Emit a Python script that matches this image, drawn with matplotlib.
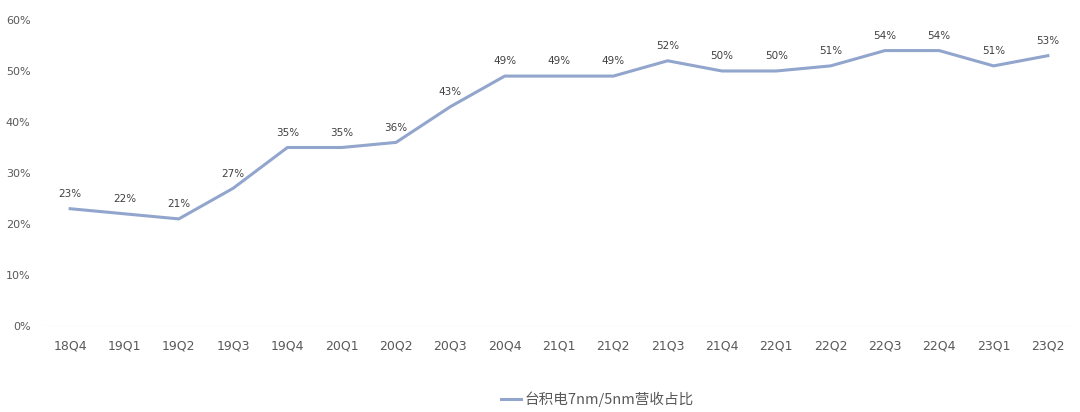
import matplotlib
matplotlib.use("Agg")
import matplotlib.pyplot as plt
from matplotlib.ticker import FuncFormatter

plt.rcParams['font.family'] = ['Noto Sans CJK SC', 'DejaVu Sans']

categories = ['18Q4', '19Q1', '19Q2', '19Q3', '19Q4', '20Q1', '20Q2', '20Q3', '20Q4',
              '21Q1', '21Q2', '21Q3', '21Q4', '22Q1', '22Q2', '22Q3', '22Q4', '23Q1', '23Q2']
share = [23, 22, 21, 27, 35, 35, 36, 43, 49, 49, 49, 52, 50, 50, 51, 54, 54, 51, 53]
series_name = '台积电7nm/5nm营收占比'
yticks = [0, 10, 20, 30, 40, 50, 60]

fig = plt.figure(figsize=(10.8, 4.12), dpi=100)
ax = fig.add_axes([0.0398, 0.2087, 0.9556, 0.7428])

x = list(range(len(categories)))
line_color = '#92a5cd'
ax.plot(x, share, color=line_color, lw=2.2, label=series_name, solid_joinstyle='miter')

for xi, v in zip(x, share):
    ax.annotate(f'{v}%', (xi, v), xytext=(0, 7), textcoords='offset points',
                ha='center', va='bottom', fontsize=7.5, color='#404040',
                family=['DejaVu Sans'])

ax.set_xlim(-0.5, len(categories) - 0.5)
ax.set_ylim(0, 60)
ax.set_yticks(yticks)
ax.yaxis.set_major_formatter(FuncFormatter(lambda v, p: f'{int(v)}%'))
ax.set_xticks(x)
ax.set_xticklabels(categories)

for s in ax.spines.values():
    s.set_visible(False)
ax.axhline(0, color='#f2f2f2', lw=1)
ax.tick_params(axis='both', length=0, colors='#595959')
ax.tick_params(axis='y', labelsize=8, pad=9)
ax.tick_params(axis='x', labelsize=9, pad=10)
for lbl in ax.get_xticklabels() + ax.get_yticklabels():
    lbl.set_family(['DejaVu Sans'])

leg = fig.legend(loc='center', bbox_to_anchor=(0.553, 0.032), frameon=False,
                 fontsize=10.5, handlelength=1.4, handletextpad=0.2)
for t in leg.get_texts():
    t.set_color('#595959')

fig.savefig('out.png', dpi=100)
